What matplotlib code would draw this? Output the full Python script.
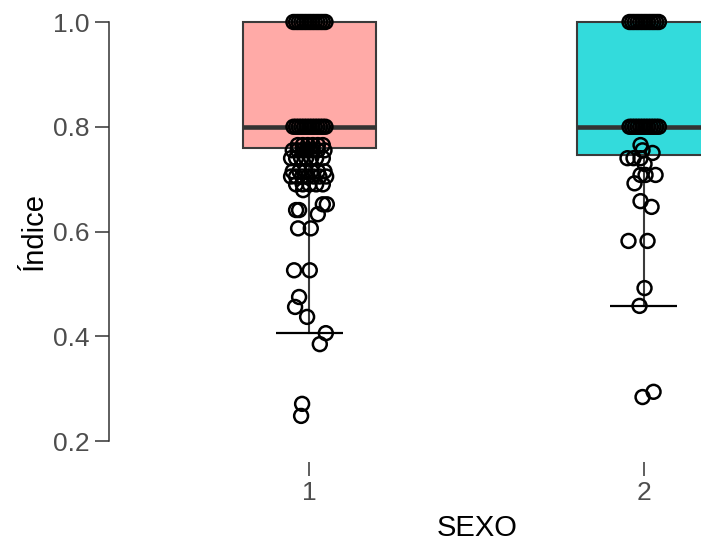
import matplotlib
matplotlib.use('Agg')
import matplotlib.pyplot as plt
import numpy as np

plt.rcParams['font.family'] = ['Liberation Sans', 'DejaVu Sans']

# Groups and box colours
groups = [1, 2]
tick_labels = ['1', '2']
box_colors = ['#FFAAA7', '#33DBDC']

# Box statistics
q1 = [0.759, 0.746]
median = [0.80, 0.80]
q3 = [1.00, 1.00]
whis_lo = [0.406, 0.458]
whis_hi = [1.00, 1.00]

# Jittered points, group 1 (value, horizontal jitter)
g1_vals = [1.0] * 13 + [0.8] * 13 + [0.765] * 6 + [0.755] * 7 + [0.74] * 7 + [0.715] * 6 + [0.705] * 7 + [0.69] * 5 + [
    0.679, 0.652, 0.652, 0.641, 0.641, 0.633, 0.606, 0.606, 0.526, 0.526,
    0.475, 0.456, 0.437, 0.406, 0.385, 0.271, 0.248]
g1_jit = [-0.048, -0.040, -0.032, -0.024, -0.016, -0.008, 0.0, 0.008, 0.016, 0.024, 0.032, 0.040, 0.048,
          -0.048, -0.040, -0.032, -0.024, -0.016, -0.008, 0.0, 0.008, 0.016, 0.024, 0.032, 0.040, 0.048,
          -0.035, -0.02, -0.005, 0.01, 0.025, 0.04,
          -0.05, -0.035, -0.02, -0.005, 0.01, 0.025, 0.045,
          -0.055, -0.04, -0.025, -0.01, 0.005, 0.02, 0.04,
          -0.05, -0.03, -0.012, 0.006, 0.025, 0.045,
          -0.055, -0.04, -0.022, -0.005, 0.012, 0.03, 0.05,
          -0.04, -0.02, 0.0, 0.02, 0.04,
          -0.019, 0.040, 0.052, -0.040, -0.031, 0.025, -0.034, 0.004, -0.046, 0.001,
          -0.031, -0.043, -0.007, 0.049, 0.031, -0.022, -0.025]

# Jittered points, group 2
g2_vals = [1.0] * 12 + [0.8] * 12 + [
    0.765, 0.755, 0.75, 0.74, 0.74, 0.74, 0.729, 0.708, 0.708, 0.708, 0.692,
    0.658, 0.647, 0.582, 0.582, 0.492, 0.458, 0.294, 0.284]
g2_jit = [-0.042, -0.034, -0.026, -0.018, -0.010, -0.002, 0.006, 0.014, 0.022, 0.030, 0.038, 0.046,
          -0.042, -0.034, -0.026, -0.018, -0.010, -0.002, 0.006, 0.014, 0.022, 0.030, 0.038, 0.046,
          -0.009, -0.003, 0.027, -0.048, -0.030, -0.009, 0.003, -0.009, 0.006, 0.036, -0.027,
          -0.009, 0.024, -0.045, 0.012, 0.003, -0.012, 0.030, -0.003]

fig = plt.figure(figsize=(7.01, 5.42), dpi=100)
ax = fig.add_axes([109 / 701, 80 / 542, 592 / 701, 462 / 542])

stats = []
for i in range(len(groups)):
    stats.append({'med': median[i], 'q1': q1[i], 'q3': q3[i],
                  'whislo': whis_lo[i], 'whishi': whis_hi[i], 'fliers': []})

bp = ax.bxp(stats, positions=groups, widths=0.4, showcaps=False, patch_artist=True,
            boxprops=dict(edgecolor='#3A3A3A', linewidth=1.5),
            medianprops=dict(color='#333333', linewidth=3.3),
            whiskerprops=dict(color='#3A3A3A', linewidth=1.5))
for patch, c in zip(bp['boxes'], box_colors):
    patch.set_facecolor(c)

# lower whisker caps
ax.hlines(whis_lo, np.array(groups) - 0.1, np.array(groups) + 0.1, color='black', linewidth=1.6, zorder=3)

ax.scatter(1 + np.array(g1_jit), g1_vals, s=100, facecolors='none', edgecolors='black',
           linewidths=1.8, zorder=4)
ax.scatter(2 + np.array(g2_jit), g2_vals, s=100, facecolors='none', edgecolors='black',
           linewidths=1.8, zorder=4)

ax.set_xlim(0.4, 2.172)
ax.set_ylim(0.16, 1.042)
ax.set_xticks(groups)
ax.set_xticklabels(tick_labels)
ax.set_yticks([0.2, 0.4, 0.6, 0.8, 1.0])
ax.set_yticklabels(['0.2', '0.4', '0.6', '0.8', '1.0'])

for s in ['top', 'right', 'bottom']:
    ax.spines[s].set_visible(False)
ax.spines['left'].set_bounds(0.2, 1.0)
ax.spines['left'].set_color('#333333')
ax.spines['left'].set_linewidth(1.1)

ax.tick_params(axis='both', colors='#333333', labelcolor='#4D4D4D', labelsize=19,
               length=10, width=1.1)
ax.tick_params(axis='y', pad=4)
ax.tick_params(axis='x', pad=3.5)

ax.set_xlabel('SEXO', fontsize=21, color='black')
ax.set_ylabel('Índice', fontsize=21, color='black')
ax.xaxis.set_label_coords((477 - 109) / 592, -(514 - 462) / 462)
ax.yaxis.set_label_coords((48 - 109) / 592, 0.5)

fig.savefig('out.png', dpi=100)
